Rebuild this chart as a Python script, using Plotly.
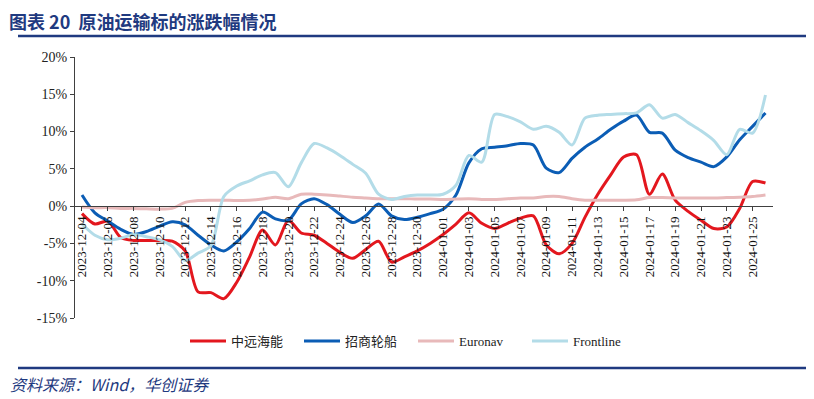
import pandas as pd
import plotly.graph_objects as go

dates = pd.date_range("2023-12-04", "2024-01-26", freq="D")

cosco = [-1.0, -2.4, -2.0, -4.2, -4.6, -4.6, -4.6, -4.7, -6.0, -11.5,
         -11.6, -12.4, -10.2, -6.8, -3.2, -5.2, -1.9, -3.6, -3.9, -5.0,
         -6.2, -7.0, -5.8, -4.7, -7.5, -6.8, -6.0, -5.0, -3.8, -2.4,
         -0.9, -2.3, -3.0, -2.3, -1.6, -1.3, -5.2, -6.4, -5.0, -1.5,
         1.6, 4.2, 6.6, 6.9, 1.6, 4.3, 0.8, -0.7, -1.9, -3.0,
         -2.8, -0.3, 3.3, 3.1]

cmes = [1.5, -0.9, -2.0, -3.1, -3.8, -3.4, -2.7, -2.1, -2.5, -3.9,
        -5.2, -6.0, -4.8, -3.0, -0.8, -1.7, -1.9, 0.3, 1.0, 0.2,
        -1.1, -2.2, -1.3, 0.3, -1.3, -1.8, -1.5, -1.0, -0.4, 1.5,
        5.8, 7.7, 7.9, 8.1, 8.4, 8.2, 5.1, 4.5, 6.4, 7.9,
        9.0, 10.3, 11.4, 12.2, 9.9, 9.8, 7.5, 6.5, 5.9, 5.3,
        6.6, 8.9, 10.7, 12.5]

euronav = [-0.1, -0.2, -0.2, -0.3, -0.3, -0.35, -0.4, -0.3, 0.5, 0.75,
           0.8, 0.8, 0.75, 0.8, 0.95, 1.2, 1.0, 1.6, 1.6, 1.5,
           1.35, 1.2, 1.1, 1.0, 1.0, 1.0, 0.95, 0.95, 0.9, 0.95,
           1.0, 0.9, 0.9, 1.0, 1.1, 1.1, 1.3, 1.3, 1.0, 0.8,
           0.8, 0.8, 0.8, 0.85, 1.15, 1.15, 1.1, 1.1, 1.1, 1.1,
           1.15, 1.2, 1.3, 1.5]

frontline = [-2.4, -3.9, -4.5, -4.3, -3.8, -4.1, -4.5, -5.4, -7.3, -6.3,
             -5.3, 1.3, 2.7, 3.4, 4.2, 4.5, 2.6, 5.8, 8.4, 7.8,
             6.8, 5.6, 4.4, 1.6, 0.9, 1.3, 1.5, 1.5, 1.6, 2.8,
             6.8, 5.9, 12.3, 12.0, 11.3, 10.3, 10.7, 9.9, 8.2, 11.8,
             12.2, 12.3, 12.4, 12.5, 13.6, 11.8, 12.3, 11.2, 10.1, 8.8,
             6.9, 10.3, 9.8, 14.9]

series_names = ["中远海能", "招商轮船", "Euronav", "Frontline"]
series_values = [cosco, cmes, euronav, frontline]
series_colors = ["#E3171E", "#0B5DB5", "#E8B9BA", "#B3DCE8"]

y_ticks = [-15, -10, -5, 0, 5, 10, 15, 20]
y_ticktext = [f"{v}%" for v in y_ticks]

title_text = "图表 20  原油运输标的涨跌幅情况"
source_text = "资料来源：Wind，华创证券"

fig = go.Figure()
for name, vals, col in zip(series_names, series_values, series_colors):
    fig.add_trace(go.Scatter(
        x=dates, y=vals, name=name, mode="lines",
        line=dict(color=col, width=3, shape="spline", smoothing=0.8),
    ))

# the page body has an 8px margin; build the figure in window coords minus 8
OFF = 8
W, H = 814 - OFF, 399 - OFF
L, T = 75 - OFF, 57 - OFF
R = 814 - 773
B = 399 - 318
pw, ph = W - L - R, H - T - B

def px(p):
    return (p - OFF - L) / pw

def py(q):
    return (H - B - (q - OFF)) / ph

serif = "Liberation Serif, Noto Sans CJK SC, serif"
navy = "#1F3A80"

fig.update_layout(
    width=W, height=H,
    margin=dict(l=L, r=R, t=T, b=B),
    paper_bgcolor="white", plot_bgcolor="white",
    font=dict(family=serif, size=13, color="#222222"),
    showlegend=True,
    legend=dict(orientation="h", x=px(413), xanchor="center", y=py(341), yanchor="middle",
                font=dict(family=serif, size=13, color="#222222"),
                entrywidth=63, entrywidthmode="pixels", itemwidth=36),
    xaxis=dict(
        type="date",
        range=["2023-12-03 11:00", "2024-01-26 14:00"],
        tick0="2023-12-04", dtick=2 * 86400000, tickformat="%Y-%m-%d",
        tickangle=-90, ticks="outside", ticklen=4, tickcolor="#404040",
        showline=True, linecolor="#404040", linewidth=1.3,
        showgrid=False, zeroline=False,
        anchor="free", position=15 / 35,
        tickfont=dict(family=serif, size=13, color="#111111"),
    ),
    yaxis=dict(
        range=[-15, 20], tickvals=y_ticks, ticktext=y_ticktext,
        ticks="outside", ticklen=4, tickcolor="#404040",
        showline=True, linecolor="#404040", linewidth=1.3,
        showgrid=False, zeroline=False,
        tickfont=dict(family=serif, size=14, color="#222222"),
    ),
)

fig.add_annotation(text=f"<b>{title_text}</b>", xref="paper", yref="paper",
                   x=px(8), y=py(21), xanchor="left", yanchor="middle", showarrow=False,
                   borderpad=0,
                   font=dict(family="Noto Sans CJK SC, sans-serif", size=18, color=navy))
fig.add_annotation(text=f"<i>{source_text}</i>", xref="paper", yref="paper",
                   x=px(8), y=py(384), xanchor="left", yanchor="middle", showarrow=False,
                   font=dict(family="Noto Sans CJK SC, Liberation Serif, serif", size=16, color=navy))
fig.add_shape(type="line", xref="paper", yref="paper", x0=px(18), x1=px(806),
              y0=py(36), y1=py(36), line=dict(color=navy, width=2.5))
fig.add_shape(type="line", xref="paper", yref="paper", x0=px(18), x1=px(806),
              y0=py(368), y1=py(368), line=dict(color=navy, width=2.5))

fig.write_html("out.html")
